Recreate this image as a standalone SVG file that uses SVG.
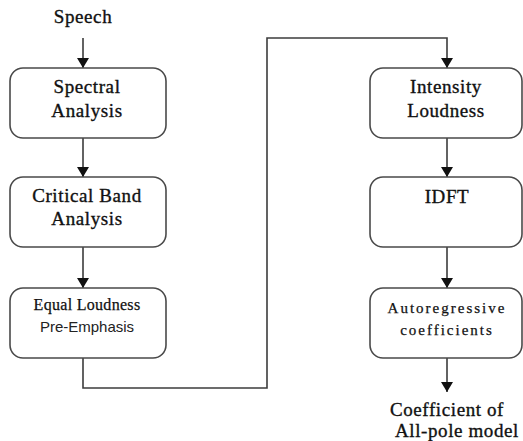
<svg xmlns="http://www.w3.org/2000/svg" width="523" height="441" viewBox="0 0 523 441">
<defs>
<marker id="ah" markerWidth="10" markerHeight="12" refX="10" refY="6" orient="auto" markerUnits="userSpaceOnUse" viewBox="0 0 10 12">
<path d="M0,0 L10,6 L0,12 Z" fill="#111"/>
</marker>
</defs>
<style>
.box{fill:#fff;stroke:#4a4a4a;stroke-width:1.6}
.ln{fill:none;stroke:#3c3c3c;stroke-width:1.6}
.t{font-family:"Liberation Serif",serif;font-size:19px;fill:#111;stroke:#111;stroke-width:0.35;text-anchor:middle;letter-spacing:0.6px}
.s{font-family:"Liberation Serif",serif;font-size:16px;fill:#111;stroke:#111;stroke-width:0.25;text-anchor:middle;letter-spacing:0.3px}
.a{font-family:"Liberation Serif",serif;font-size:15px;fill:#111;stroke:#111;stroke-width:0.25;text-anchor:middle;letter-spacing:2px}
.sans{font-family:"Liberation Sans",sans-serif;font-size:15px;fill:#222;text-anchor:middle}
</style>
<rect width="523" height="441" fill="#fff"/>
<g id="connectors">
<line class="ln" x1="83" y1="38" x2="83" y2="68" marker-end="url(#ah)"/>
<line class="ln" x1="83" y1="138" x2="83" y2="177" marker-end="url(#ah)"/>
<line class="ln" x1="83" y1="247" x2="83" y2="288" marker-end="url(#ah)"/>
<polyline class="ln" points="83,358 83,388 267,388 267,38 447,38 447,68" marker-end="url(#ah)"/>
<line class="ln" x1="447" y1="138" x2="447" y2="177" marker-end="url(#ah)"/>
<line class="ln" x1="447" y1="247" x2="447" y2="288" marker-end="url(#ah)"/>
<line class="ln" x1="447" y1="358" x2="447" y2="392" marker-end="url(#ah)"/>
</g>
<g id="speech"><text class="t" x="83" y="23">Speech</text></g>
<g id="spectral">
<rect class="box" x="10" y="68" width="156" height="70" rx="13"/>
<text class="t" x="87" y="93">Spectral</text>
<text class="t" x="87" y="117">Analysis</text>
</g>
<g id="critical">
<rect class="box" x="10" y="177" width="156" height="70" rx="13"/>
<text class="t" x="87" y="202" letter-spacing="1">Critical Band</text>
<text class="t" x="87" y="225">Analysis</text>
</g>
<g id="equal">
<rect class="box" x="10" y="288" width="156" height="70" rx="13"/>
<text class="s" x="87" y="310">Equal Loudness</text>
<text class="sans" x="87" y="332">Pre-Emphasis</text>
</g>
<g id="intensity">
<rect class="box" x="370" y="68" width="152" height="70" rx="13"/>
<text class="t" x="446" y="93">Intensity</text>
<text class="t" x="446" y="117">Loudness</text>
</g>
<g id="idft">
<rect class="box" x="370" y="177" width="152" height="70" rx="13"/>
<text class="t" x="447" y="203">IDFT</text>
</g>
<g id="auto">
<rect class="box" x="370" y="288" width="152" height="70" rx="13"/>
<text class="a" x="447" y="313">Autoregressive</text>
<text class="a" x="447" y="335">coefficients</text>
</g>
<g id="output">
<text class="t" x="447" y="416" font-size="20" letter-spacing="1.8">Coefficient of</text>
<text class="t" x="457" y="437" font-size="20" letter-spacing="0.9">All-pole model</text>
</g>
</svg>
